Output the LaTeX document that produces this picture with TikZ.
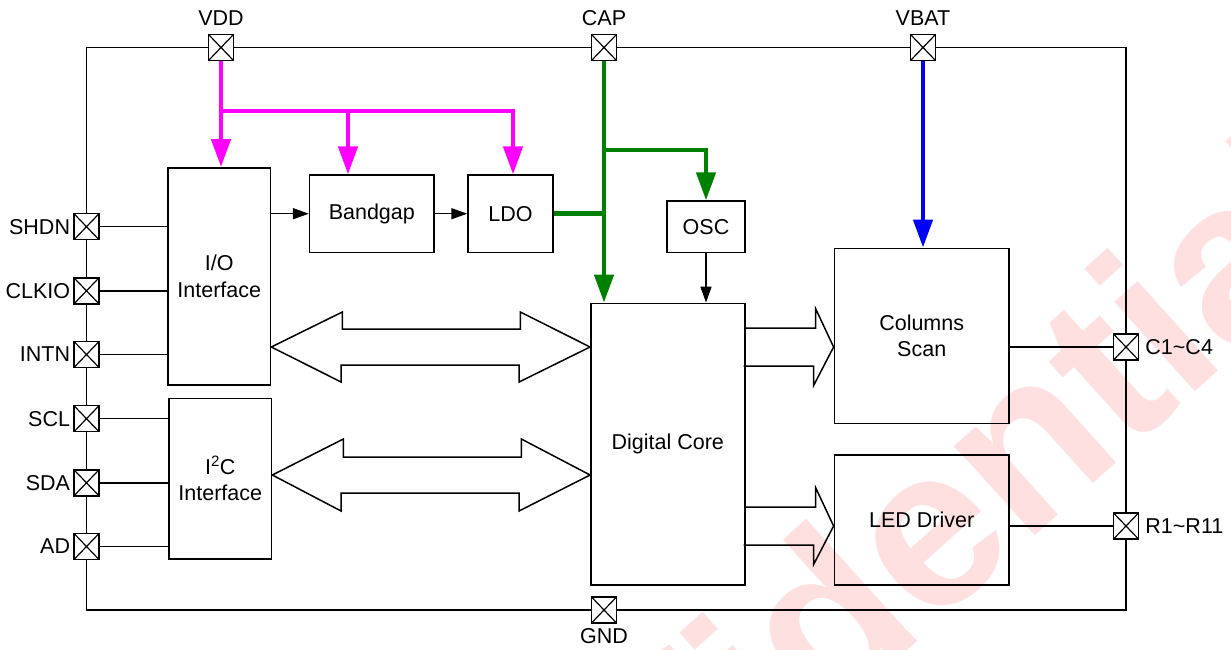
\documentclass[tikz,border=0pt]{standalone}
\usepackage{fontspec}
\setmainfont{Liberation Sans}
\usepackage{tikz}
\usetikzlibrary{arrows.meta,positioning}
\definecolor{vddc}{RGB}{255,0,255}
\definecolor{capc}{RGB}{0,128,0}
\definecolor{vbatc}{RGB}{0,0,255}
\tikzset{
  box/.style={draw,line width=1.5pt,inner sep=0pt,align=center},          % 功能块
  pad/.style={draw,fill=white,line width=1.5pt,minimum width=25pt,minimum height=26pt,inner sep=0pt,
              path picture={\draw[line width=1.2pt]
                (path picture bounding box.south west) -- (path picture bounding box.north east)
                (path picture bounding box.north west) -- (path picture bounding box.south east);}}, % 引脚：方框 + 叉
  lbl/.style={inner sep=0pt},                                              % 引脚名
  pin/.style={line width=1.5pt},                                           % 细实线
  pwr/.style={line width=4.5pt,-{Triangle[length=28pt,width=19pt]}},       % 电源：粗线 + 大箭头
  sig/.style={line width=1.5pt,-{Triangle[length=16pt,width=11pt]}},       % 信号
  bus/.style={line width=1.5pt},                                           % 总线空心箭头
  wmark/.style={text=red!12,inner sep=0pt,font=\fontsize{228}{228}\selectfont\bfseries} % 水印
}

\begin{document}
\begin{tikzpicture}[x=1pt,y=-1pt,font=\fontsize{21.5}{26.5}\selectfont]
  \useasboundingbox (0,0) rectangle (1231,649);
  \begin{scope}
    \clip (0,0) rectangle (1231,649);
    \node[wmark,rotate=42] (wm) at (828,613) {Confidential};
  \end{scope}

  % 芯片外框与引脚
  \draw[pin] (86.5,47.5) rectangle (1126,610);
  \node[pad] (vdd) at (221,47.5) {};
  \node[pad] (cap) at (604,47.5) {};
  \node[pad] (vbat) at (923,47.5) {};
  \node[pad] (shdn) at (86.5,226.7) {};
  \node[pad] (clkio) at (86.5,290.8) {};
  \node[pad] (intn) at (86.5,354.5) {};
  \node[pad] (scl) at (86.5,418.7) {};
  \node[pad] (sda) at (86.5,482.8) {};
  \node[pad] (ad) at (86.5,546.5) {};
  \node[pad] (gnd) at (604,610) {};
  \node[pad] (c14) at (1126,347) {};
  \node[pad] (r111) at (1126,526) {};
  \node[lbl,above=8pt of vdd] (vddlbl) {VDD};
  \node[lbl,above=8pt of cap] (caplbl) {CAP};
  \node[lbl,above=8pt of vbat] (vbatlbl) {VBAT};
  \node[lbl,left=3pt of shdn] (shdnlbl) {SHDN};
  \node[lbl,left=3pt of clkio] (clkiolbl) {CLKIO};
  \node[lbl,left=3pt of intn] (intnlbl) {INTN};
  \node[lbl,left=3pt of scl] (scllbl) {SCL};
  \node[lbl,left=3pt of sda] (sdalbl) {SDA};
  \node[lbl,left=3pt of ad] (adlbl) {AD};
  \node[lbl,below=5pt of gnd] (gndlbl) {GND};
  \node[lbl,right=6pt of c14] (c14lbl) {C1\textasciitilde C4};
  \node[lbl,right=6pt of r111] (r111lbl) {R1\textasciitilde R11};

  % 功能块
  \node[box,minimum width=102.5pt,minimum height=217.3pt] (io) at (219.3,276.4) {I/O\\Interface};
  \node[box,minimum width=102.6pt,minimum height=160.7pt] (i2c) at (220.3,478.7) {I\textsuperscript{2}C\\Interface};
  \node[box,minimum width=124.4pt,minimum height=77.3pt] (bandgap) at (371.8,213.7) {Bandgap};
  \node[box,minimum width=85pt,minimum height=77.3pt] (ldo) at (510.5,213.7) {LDO};
  \node[box,minimum width=78pt,minimum height=51.3pt] (osc) at (706,226.7) {OSC};
  \node[box,minimum width=154pt,minimum height=281.7pt] (core) at (667.8,444.2) {Digital Core};
  \node[box,minimum width=174.7pt,minimum height=175.4pt] (cols) at (921.7,336) {Columns\\Scan};
  \node[box,minimum width=174.7pt,minimum height=130.3pt] (led) at (921.7,519.9) {LED Driver};

  % 引脚连线
  \foreach \p in {shdn,clkio,intn} \draw[pin] (\p.east) -- (\p.east -| io.west);
  \foreach \p in {scl,sda,ad} \draw[pin] (\p.east) -- (\p.east -| i2c.west);
  \draw[pin] (cols.east |- c14) -- (c14.west);
  \draw[pin] (led.east |- r111) -- (r111.west);

  % 电源
  \coordinate (mb) at (348,111);
  \coordinate (ml) at (513,111);
  \coordinate (cj) at (604,150);
  \draw[pwr,vddc] (vdd.south) -- (vdd |- io.north);
  \draw[pwr,vddc] (vdd |- mb) -- (ml) -- (ml |- ldo.north);
  \draw[pwr,vddc] (mb) -- (mb |- bandgap.north);
  \draw[pwr,capc] (cap.south) -- (cap |- core.north);
  \draw[pwr,capc,-] (ldo.east) -- (cap |- ldo.east);
  \draw[pwr,capc] (cj) -- (cj -| osc) -- (osc.north);
  \draw[pwr,vbatc] (vbat.south) -- (vbat |- cols.north);

  % 信号
  \draw[sig] (io.east |- bandgap.west) -- (bandgap.west);
  \draw[sig] (bandgap) -- (ldo);
  \draw[sig] (osc) -- (osc |- core.north);

  % 总线
  \coordinate (bus1) at (0,347);
  \coordinate (bus2) at (0,475);
  \draw[bus] (io.east |- bus1) -- ++(71,-35) -- ++(0,17) -- ++(178,0) -- ++(0,-17) -- (core.west |- bus1)
    -- ++(-71,35) -- ++(0,-17) -- ++(-178,0) -- ++(0,17) -- cycle;
  \draw[bus] (i2c.east |- bus2) -- ++(71,-36) -- ++(0,18) -- ++(178,0) -- ++(0,-18) -- (core.west |- bus2)
    -- ++(-71,36) -- ++(0,-18) -- ++(-178,0) -- ++(0,18) -- cycle;
  \draw[bus] (core.east |- c14) ++(0,-19) -- ++(70,0) -- ++(0,-19.5) -- (cols.west |- c14)
    -- ++(-20,38.5) -- ++(0,-19.5) -- ++(-70,0);
  \draw[bus] (core.east |- r111) ++(0,-19) -- ++(70,0) -- ++(0,-19.5) -- (led.west |- r111)
    -- ++(-20,38.5) -- ++(0,-19.5) -- ++(-70,0);
\end{tikzpicture}
\end{document}
